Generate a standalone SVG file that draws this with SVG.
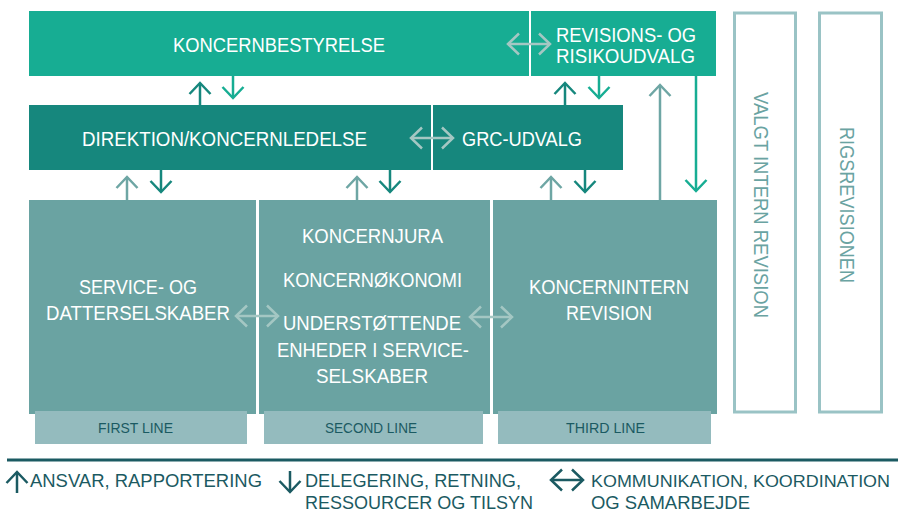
<svg xmlns="http://www.w3.org/2000/svg" width="898" height="513" viewBox="0 0 898 513">
<defs>
<style>
.t{font-family:"Liberation Sans",Arial,sans-serif;font-size:20px;fill:#ffffff;}
.lb{font-family:"Liberation Sans",Arial,sans-serif;font-size:15px;fill:#1b5a62;}
.vt{font-family:"Liberation Sans",Arial,sans-serif;font-size:21px;fill:#6aa3a2;}
.lg{font-family:"Liberation Sans",Arial,sans-serif;font-size:19px;fill:#1b5a62;}
.lgn{font-family:"Liberation Sans",Arial,sans-serif;font-size:16.5px;fill:#1b5a62;}
.a{fill:none;stroke-width:2.5;}
</style>
<marker id="mDark" viewBox="-13 -13 26 26" markerWidth="26" markerHeight="26" markerUnits="userSpaceOnUse" refX="0" refY="0" orient="auto-start-reverse"><path d="M-11,-10.5 L0,0 L-11,10.5" fill="none" stroke="#16877d" stroke-width="2.5"/></marker>
<marker id="mGreen" viewBox="-13 -13 26 26" markerWidth="26" markerHeight="26" markerUnits="userSpaceOnUse" refX="0" refY="0" orient="auto-start-reverse"><path d="M-11,-10.5 L0,0 L-11,10.5" fill="none" stroke="#17ad93" stroke-width="2.5"/></marker>
<marker id="mLight" viewBox="-13 -13 26 26" markerWidth="26" markerHeight="26" markerUnits="userSpaceOnUse" refX="0" refY="0" orient="auto-start-reverse"><path d="M-11,-10.5 L0,0 L-11,10.5" fill="none" stroke="#6ea6a4" stroke-width="2.5"/></marker>
<marker id="mPale" viewBox="-13 -13 26 26" markerWidth="26" markerHeight="26" markerUnits="userSpaceOnUse" refX="0" refY="0" orient="auto-start-reverse"><path d="M-11,-10.5 L0,0 L-11,10.5" fill="none" stroke="#a4c7c3" stroke-width="2.5"/></marker>
<marker id="mLeg" viewBox="-13 -13 26 26" markerWidth="26" markerHeight="26" markerUnits="userSpaceOnUse" refX="0" refY="0" orient="auto-start-reverse"><path d="M-11,-10.5 L0,0 L-11,10.5" fill="none" stroke="#1b5a62" stroke-width="2.5"/></marker>
</defs>
<rect width="898" height="513" fill="#ffffff"/>

<g id="koncernbestyrelse">
<rect x="29" y="11" width="500" height="65" fill="#17ad93"/>
<text class="t" x="173" y="52" textLength="212" lengthAdjust="spacingAndGlyphs">KONCERNBESTYRELSE</text>
</g>
<g id="revisionsudvalg">
<rect x="531" y="11" width="185" height="65" fill="#17ad93"/>
<text class="t" x="556" y="42" textLength="140" lengthAdjust="spacingAndGlyphs">REVISIONS- OG</text>
<text class="t" x="556" y="63" textLength="139" lengthAdjust="spacingAndGlyphs">RISIKOUDVALG</text>
</g>
<g id="direktion">
<rect x="29" y="105" width="402" height="65" fill="#16877d"/>
<text class="t" x="82" y="146" textLength="285" lengthAdjust="spacingAndGlyphs">DIREKTION/KONCERNLEDELSE</text>
</g>
<g id="grc">
<rect x="433" y="105" width="190" height="65" fill="#16877d"/>
<text class="t" x="462" y="146" textLength="120" lengthAdjust="spacingAndGlyphs">GRC-UDVALG</text>
</g>
<g id="firstline">
<rect x="29" y="200" width="227" height="214" fill="#6aa3a2"/>
<text class="t" x="79" y="294" textLength="118" lengthAdjust="spacingAndGlyphs">SERVICE- OG</text>
<text class="t" x="46" y="320" textLength="184" lengthAdjust="spacingAndGlyphs">DATTERSELSKABER</text>
<rect x="35" y="411" width="212" height="33" fill="#94bbbe"/>
<text class="lb" x="98" y="433" textLength="75" lengthAdjust="spacingAndGlyphs">FIRST LINE</text>
</g>
<g id="secondline">
<rect x="259" y="200" width="231" height="214" fill="#6aa3a2"/>
<text class="t" x="302" y="243" textLength="141" lengthAdjust="spacingAndGlyphs">KONCERNJURA</text>
<text class="t" x="283" y="287" textLength="179" lengthAdjust="spacingAndGlyphs">KONCERNØKONOMI</text>
<text class="t" x="283" y="330" textLength="178" lengthAdjust="spacingAndGlyphs">UNDERSTØTTENDE</text>
<text class="t" x="277" y="357" textLength="192" lengthAdjust="spacingAndGlyphs">ENHEDER I SERVICE-</text>
<text class="t" x="316" y="383" textLength="112" lengthAdjust="spacingAndGlyphs">SELSKABER</text>
<rect x="264" y="411" width="219" height="33" fill="#94bbbe"/>
<text class="lb" x="325" y="433" textLength="92" lengthAdjust="spacingAndGlyphs">SECOND LINE</text>
</g>
<g id="thirdline">
<rect x="493" y="200" width="224" height="214" fill="#6aa3a2"/>
<text class="t" x="529" y="294" textLength="160" lengthAdjust="spacingAndGlyphs">KONCERNINTERN</text>
<text class="t" x="566" y="320" textLength="86" lengthAdjust="spacingAndGlyphs">REVISION</text>
<rect x="498" y="411" width="213" height="33" fill="#94bbbe"/>
<text class="lb" x="566" y="433" textLength="79" lengthAdjust="spacingAndGlyphs">THIRD LINE</text>
</g>
<g id="valgtintern">
<rect x="734.5" y="13" width="61" height="399" fill="none" stroke="#9ac3c5" stroke-width="3"/>
<text class="vt" transform="translate(754,92) rotate(90)" x="0" y="0" textLength="226" lengthAdjust="spacingAndGlyphs">VALGT INTERN REVISION</text>
</g>
<g id="rigsrevisionen">
<rect x="819.5" y="13" width="62" height="399" fill="none" stroke="#9ac3c5" stroke-width="3"/>
<text class="vt" transform="translate(840,127) rotate(90)" x="0" y="0" textLength="156" lengthAdjust="spacingAndGlyphs">RIGSREVISIONEN</text>
</g>

<g id="connectors">
<line class="a" x1="200" y1="105" x2="200" y2="83" stroke="#16877d" marker-end="url(#mDark)"/>
<line class="a" x1="233" y1="76" x2="233" y2="98" stroke="#17ad93" marker-end="url(#mGreen)"/>
<line class="a" x1="565" y1="105" x2="565" y2="83" stroke="#16877d" marker-end="url(#mDark)"/>
<line class="a" x1="599" y1="76" x2="599" y2="98" stroke="#17ad93" marker-end="url(#mGreen)"/>
<line class="a" x1="660" y1="200" x2="660" y2="85" stroke="#6ea6a4" marker-end="url(#mLight)"/>
<line class="a" x1="696" y1="76" x2="696" y2="191" stroke="#17ad93" marker-end="url(#mGreen)"/>
<line class="a" x1="127" y1="200" x2="127" y2="177" stroke="#6ea6a4" marker-end="url(#mLight)"/>
<line class="a" x1="161" y1="170" x2="161" y2="192" stroke="#16877d" marker-end="url(#mDark)"/>
<line class="a" x1="357" y1="200" x2="357" y2="177" stroke="#6ea6a4" marker-end="url(#mLight)"/>
<line class="a" x1="390" y1="170" x2="390" y2="192" stroke="#16877d" marker-end="url(#mDark)"/>
<line class="a" x1="551" y1="200" x2="551" y2="177" stroke="#6ea6a4" marker-end="url(#mLight)"/>
<line class="a" x1="585" y1="170" x2="585" y2="192" stroke="#16877d" marker-end="url(#mDark)"/>
<line class="a" x1="508" y1="44" x2="550" y2="44" stroke="#a4c7c3" marker-start="url(#mPale)" marker-end="url(#mPale)"/>
<line class="a" x1="411" y1="138" x2="453" y2="138" stroke="#a4c7c3" marker-start="url(#mPale)" marker-end="url(#mPale)"/>
<line class="a" x1="236" y1="316" x2="278" y2="316" stroke="#a4c7c3" marker-start="url(#mPale)" marker-end="url(#mPale)"/>
<line class="a" x1="470" y1="317" x2="512" y2="317" stroke="#a4c7c3" marker-start="url(#mPale)" marker-end="url(#mPale)"/>
</g>

<g id="legend">
<line x1="7" y1="460" x2="898" y2="460" stroke="#1b5a62" stroke-width="3"/>
<line class="a" x1="17" y1="493" x2="17" y2="472" stroke="#1b5a62" marker-end="url(#mLeg)"/>
<text class="lg" x="30" y="487" textLength="232" lengthAdjust="spacingAndGlyphs">ANSVAR, RAPPORTERING</text>
<line class="a" x1="290" y1="471" x2="290" y2="492" stroke="#1b5a62" marker-end="url(#mLeg)"/>
<text class="lg" x="305" y="487" textLength="216" lengthAdjust="spacingAndGlyphs">DELEGERING, RETNING,</text>
<text class="lg" x="305" y="509" textLength="228" lengthAdjust="spacingAndGlyphs">RESSOURCER OG TILSYN</text>
<line class="a" x1="551" y1="480" x2="583" y2="480" stroke="#1b5a62" marker-start="url(#mLeg)" marker-end="url(#mLeg)"/>
<text class="lgn" x="591" y="487" textLength="299" lengthAdjust="spacingAndGlyphs">KOMMUNIKATION, KOORDINATION</text>
<text class="lg" x="591" y="509" textLength="159" lengthAdjust="spacingAndGlyphs">OG SAMARBEJDE</text>
</g>
</svg>
